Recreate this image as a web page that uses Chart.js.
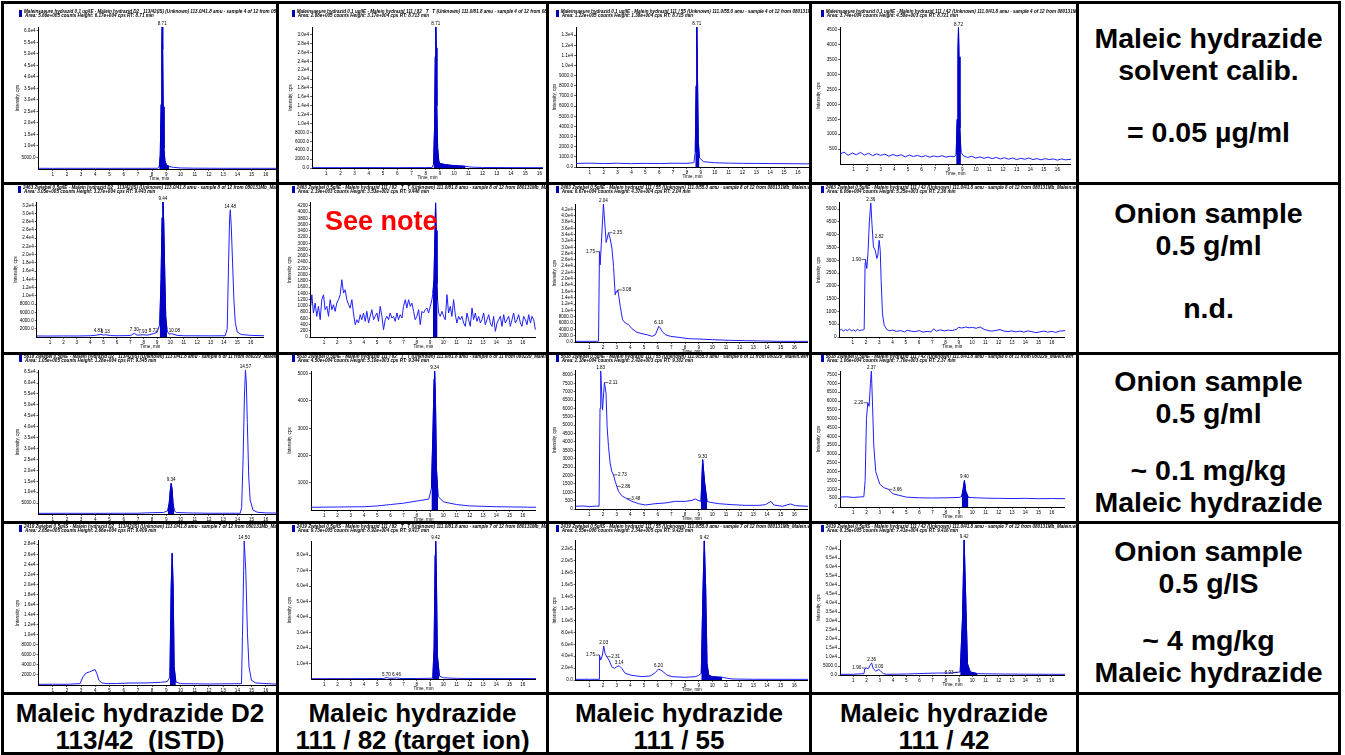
<!DOCTYPE html>
<html>
<head>
<meta charset="utf-8">
<script src="https://cdn.jsdelivr.net/npm/chart.js@4.4.1/dist/chart.umd.min.js"></script>
<style>
body { margin: 0; background: #fff; width: 1345px; height: 755px; overflow: hidden; font-family: "Liberation Sans", Arial, sans-serif; }
#grid { position: absolute; left: 1px; top: 1px; display: grid; background: #000; padding: 3px; gap: 3px;
  grid-template-columns: 272px 267px 260px 264px 259px; grid-template-rows: 178px 167px 166px 168px 57px; }
.cell { background: #fff; position: relative; overflow: hidden; }
.cell canvas { position: absolute; left: 0; top: 0; }
.icon { position: absolute; width: 3px; height: 7px; background: #0000b4; }
.hdr { position: absolute; font: italic bold 4.6px "Liberation Sans"; line-height: 4.4px; white-space: pre; color: #000; }
.txt { position: absolute; left: 0; right: 0; text-align: center; font: bold 28.5px "Liberation Sans"; line-height: 32px; white-space: pre; }
.bot { position: absolute; left: 0; right: 0; text-align: center; font: bold 26px "Liberation Sans"; line-height: 27px; white-space: pre; }
.note { position: absolute; font: bold 27px "Liberation Sans"; color: #ff0000; white-space: nowrap; }
</style>
</head>
<body>
<div id="grid">
  <div class="cell" id="c11"></div><div class="cell" id="c12"></div><div class="cell" id="c13"></div><div class="cell" id="c14"></div>
  <div class="cell" id="t1"></div>
  <div class="cell" id="c21"></div><div class="cell" id="c22"></div><div class="cell" id="c23"></div><div class="cell" id="c24"></div>
  <div class="cell" id="t2"></div>
  <div class="cell" id="c31"></div><div class="cell" id="c32"></div><div class="cell" id="c33"></div><div class="cell" id="c34"></div>
  <div class="cell" id="t3"></div>
  <div class="cell" id="c41"></div><div class="cell" id="c42"></div><div class="cell" id="c43"></div><div class="cell" id="c44"></div>
  <div class="cell" id="t4"></div>
  <div class="cell" id="b1"></div><div class="cell" id="b2"></div><div class="cell" id="b3"></div><div class="cell" id="b4"></div>
  <div class="cell" id="b5"></div>
</div>
<script>
// x-Achse: Zeit in min
const xTickLabels = ['1','2','3','4','5','6','7','8','9','10','11','12','13','14','15','16'];

// Beschriftung rechts (Text, Mitte in px ab Zellenoberkante) und unten
const sampleTexts = [
  [['Maleic hydrazide', 34], ['solvent calib.', 66], ['= 0.05 µg/ml', 128]],
  [['Onion sample', 28], ['0.5 g/ml', 60], ['n.d.', 123]],
  [['Onion sample', 26], ['0.5 g/ml', 58], ['~ 0.1 mg/kg', 115], ['Maleic hydrazide', 147]],
  [['Onion sample', 27], ['0.5 g/IS', 59], ['~ 4 mg/kg', 116], ['Maleic hydrazide', 148]]
];
const ionLabels = [
  ['Maleic hydrazide D2', '113/42  (ISTD)'],
  ['Maleic hydrazide', '111 / 82 (target ion)'],
  ['Maleic hydrazide', '111 / 55'],
  ['Maleic hydrazide', '111 / 42']
];

// ---- Zeile 1: Standard 0,05 µg/ml ----
const p11Header = ['Maleinsaeure hydrazid 0,1 ug/lE - Malein hydrazid D2   113/42(IS) (Unknown) 113.0/41.8 amu - sample 4 of 12 from 080131Mb_Malein.wiff',
  ' Area: 5.66e+005 counts Height: 6.17e+004 cps RT: 8.71 min'];
const p11YLabels = ['5000.0','1.0e4','1.5e4','2.0e4','2.5e4','3.0e4','3.5e4','4.0e4','4.5e4','5.0e4','5.5e4','6.0e4'];
const p11YMax = 61700;
const p11Trace = [[0,300],[1,280],[2,300],[3,290],[4,300],[5,280],[6,300],[7,290],[8,310],[8.4,330],[8.5,900],[8.57,6000],[8.63,28000],
  [8.68,55000],[8.71,61700],[8.74,52000],[8.78,27000],[8.83,9000],[8.9,3500],[9.0,1800],[9.2,1100],[9.5,700],[10,450],[11,350],[13,300],[15,300],[17,290]];
const p11Fill = [8.45, 9.25];
const p11Peaks = [[8.71, 61700, '8.71']];

const p12Header = ['Maleinsaeure hydrazid 0,1 ug/lE - Malein hydrazid 111 / 82   T   T (Unknown) 111.0/81.8 amu - sample 4 of 12 from 080131Mb_Malein.wiff',
  ' Area: 2.88e+005 counts Height: 3.17e+004 cps RT: 8.713 min'];
const p12YLabels = ['0.0','2000.0','4000.0','6000.0','8000.0','1.0e4','1.2e4','1.4e4','1.6e4','1.8e4','2.0e4','2.2e4','2.4e4','2.6e4','2.8e4','3.0e4'];
const p12YMax = 31700;
const p12Trace = [[0,80],[2,80],[4,100],[6,80],[8,100],[8.45,120],[8.55,900],[8.62,9000],[8.67,25000],[8.71,31700],[8.74,27000],[8.78,14000],
  [8.84,4500],[8.92,1600],[9.0,1000],[9.4,750],[9.8,600],[10.3,480],[10.8,380],[11.2,200],[12,120],[14,90],[16.25,80]];
const p12Fill = [8.5, 10.8];
const p12Peaks = [[8.71, 31700, '8.71']];

const p13Header = ['Maleinsaeure hydrazid 0,1 ug/lE - Malein hydrazid 111 / 55 (Unknown) 111.0/55.0 amu - sample 4 of 12 from 080131Mb_Malein.wiff',
  ' Area: 1.22e+005 counts Height: 1.38e+004 cps RT: 8.715 min'];
const p13YLabels = ['0.0','1000.0','2000.0','3000.0','4000.0','5000.0','6000.0','7000.0','8000.0','9000.0','1.0e4','1.1e4','1.2e4','1.3e4'];
const p13YMax = 13800;
const p13Trace = [[0,350],[1,380],[2,340],[3,370],[4,330],[5,360],[6,340],[7,370],[8,360],[8.5,420],[8.6,1500],[8.66,8000],[8.71,13800],
  [8.76,9000],[8.82,2500],[8.9,900],[9.2,520],[10,420],[11,380],[12,360],[13,350],[14,340],[15,330],[16,320],[16.8,310]];
const p13Fill = [8.55, 9.1];
const p13Peaks = [[8.71, 13800, '8.71']];

const p14Header = ['Maleinsaeure hydrazid 0,1 ug/lE - Malein hydrazid 111 / 42 (Unknown) 111.0/41.8 amu - sample 4 of 12 from 080131Mb_Malein.wiff',
  ' Area: 3.74e+004 counts Height: 4.58e+003 cps RT: 8.721 min'];
const p14YLabels = ['500','1000','1500','2000','2500','3000','3500','4000','4500'];
const p14YMax = 4600;
const p14Trace = [[0,330],[0.3,400],[0.6,290],[0.9,370],[1.2,310],[1.5,390],[1.8,300],[2.1,360],[2.4,280],[2.7,340],[3.0,290],[3.3,330],[3.6,260],
  [3.9,320],[4.2,270],[4.5,310],[4.8,240],[5.1,300],[5.4,250],[5.7,290],[6.0,240],[6.3,280],[6.6,230],[6.9,270],[7.2,240],[7.5,280],[7.8,230],
  [8.1,260],[8.4,240],[8.55,320],[8.62,1500],[8.68,3800],[8.72,4580],[8.76,3600],[8.82,1200],[8.9,400],[9.1,270],[9.4,220],[9.7,260],[10.0,200],
  [10.3,240],[10.6,190],[10.9,230],[11.2,180],[11.5,220],[11.8,170],[12.1,210],[12.4,160],[12.7,200],[13.0,150],[13.3,190],[13.6,160],[13.9,200],
  [14.2,150],[14.5,180],[14.8,140],[15.1,180],[15.4,150],[15.7,170],[16.0,130],[16.3,170],[16.6,140],[17.0,160]];
const p14Fill = [8.55, 9.0];
const p14Peaks = [[8.72, 4580, '8.72']];

// ---- Zeile 2: Zwiebel 0,5 g/ml, n.d. ----
const p21Header = ['2463 Zwiebel 0,5g/IE - Malein hydrazid D2   113/42(IS) (Unknown) 113.0/41.8 amu - sample 8 of 12 from 080131Mb_Malein.wiff',
  ' Area: 3.05e+005 counts Height: 3.27e+004 cps RT: 9.443 min'];
const p21YLabels = ['2000.0','4000.0','6000.0','8000.0','1.0e4','1.2e4','1.4e4','1.6e4','1.8e4','2.0e4','2.2e4','2.4e4','2.6e4','2.8e4','3.0e4','3.2e4'];
const p21YMax = 32800;
const p21Trace = [[0,250],[1,230],[2,260],[3,240],[4,300],[4.5,450],[4.81,650],[5.0,450],[5.13,550],[5.5,350],[6,300],[7,350],[7.3,900],[7.5,450],
  [7.93,550],[8.3,450],[8.72,800],[9.0,1100],[9.2,3000],[9.3,14000],[9.38,29000],[9.44,32800],[9.5,28000],[9.58,15000],[9.65,5000],[9.75,1500],
  [9.9,700],[10.08,800],[10.5,400],[11,300],[13,280],[14.1,300],[14.25,2000],[14.35,18000],[14.43,29000],[14.48,30900],[14.55,27000],[14.65,18000],
  [14.75,9000],[14.85,3500],[15.0,1200],[15.3,600],[16,400],[17,300]];
const p21Fill = [9.15, 9.8];
const p21Peaks = [[4.6, 650, '4.81'], [5.13, 550, '5.13'], [7.3, 900, '7.30'], [7.93, 550, '7.93'], [8.72, 800, '8.72'], [9.44, 32800, '9.44'], [10.3, 800, '10.08'], [14.48, 30900, '14.48']];

const p22Header = ['2463 Zwiebel 0,5g/IE - Malein hydrazid 111 / 82   T   T (Unknown) 111.0/81.8 amu - sample 8 of 12 from 080131Mb_Malein.wiff',
  ' Area: 2.19e+003 counts Height: 3.53e+002 cps RT: 9.448 min'];
const p22YLabels = ['0','200','400','600','800','1000','1200','1400','1600','1800','2000','2200','2400','2600','2800','3000','3200','3400','3600','3800','4000','4200'];
const p22YMax = 4300;
const p22Trace = [[0,1000],[0.08,1350],[0.2,768],[0.33,1087],[0.45,661],[0.58,981],[0.71,554],[0.83,1194],[0.96,1354],[1.08,874],[1.21,981],
  [1.34,661],[1.46,1194],[1.59,874],[1.71,1034],[1.84,821],[1.96,1087],[2.09,1194],[2.22,1354],[2.34,1834],[2.47,1407],[2.59,1514],[2.72,1194],
  [2.85,1034],[2.97,927],[3.1,1194],[3.22,768],[3.35,394],[3.48,554],[3.6,448],[3.73,714],[3.85,554],[3.98,768],[4.11,501],[4.23,821],[4.36,448],
  [4.48,661],[4.61,874],[4.74,554],[4.86,661],[4.99,768],[5.11,501],[5.24,981],[5.37,661],[5.49,235],[5.62,554],[5.74,661],[5.87,554],[5.99,768],
  [6.12,608],[6.25,661],[6.37,501],[6.5,768],[6.62,554],[6.75,714],[6.88,608],[7.0,981],[7.13,1194],[7.25,927],[7.38,1194],[7.51,981],[7.63,1087],
  [7.76,821],[7.88,554],[8.01,661],[8.14,874],[8.26,394],[8.39,821],[8.51,768],[8.64,874],[8.77,927],[8.89,768],[9.02,981],[9.14,1194],[9.22,1407],
  [9.3,1850],[9.35,2900],[9.42,4300],[9.47,3400],[9.52,1700],[9.57,1194],[9.65,768],[9.77,661],[9.9,821],[10.03,661],[10.15,554],[10.28,1354],
  [10.4,768],[10.53,981],[10.65,661],[10.78,1194],[10.91,714],[11.03,448],[11.16,661],[11.28,554],[11.41,661],[11.54,448],[11.66,341],[11.79,768],
  [11.91,554],[12.04,341],[12.17,927],[12.29,554],[12.42,768],[12.54,501],[12.67,661],[12.8,448],[12.92,554],[13.05,768],[13.17,394],[13.3,554],
  [13.43,714],[13.55,448],[13.68,341],[13.8,661],[13.93,181],[14.06,448],[14.18,554],[14.31,661],[14.43,341],[14.56,714],[14.68,448],[14.81,554],
  [14.94,661],[15.06,341],[15.19,554],[15.31,768],[15.44,448],[15.57,554],[15.69,714],[15.82,448],[15.94,341],[16.07,661],[16.2,554],[16.32,394],
  [16.45,714],[16.58,448],[16.7,661],[16.83,554],[16.95,235]];
const p22Fill = [9.2, 9.6];
const p22Peaks = [];

const p23Header = ['2463 Zwiebel 0,5g/IE - Malein hydrazid 111 / 55 (Unknown) 111.0/55.0 amu - sample 8 of 12 from 080131Mb_Malein.wiff',
  ' Area: 6.67e+004 counts Height: 4.37e+004 cps RT: 2.04 min'];
const p23YLabels = ['0.0','2000.0','4000.0','6000.0','8000.0','1.0e4','1.2e4','1.4e4','1.6e4','1.8e4','2.0e4','2.2e4','2.4e4','2.6e4','2.8e4','3.0e4',
  '3.2e4','3.4e4','3.6e4','3.8e4','4.0e4','4.2e4'];
const p23YMax = 43700;
const p23Trace = [[0,200],[0.5,210],[1.0,200],[1.5,220],[1.67,250],[1.74,28600],[1.79,24400],[2.03,43700],[2.23,31500],[2.4,34600],[2.52,32800],
  [2.65,29700],[2.77,23900],[2.89,14950],[2.95,16000],[3.01,15800],[3.08,16500],[3.14,14950],[3.26,11270],[3.43,7050],[3.63,6000],[3.87,5480],
  [4.12,4200],[4.49,3050],[4.85,2630],[5.22,2320],[5.59,1790],[5.83,2300],[6.08,4950],[6.2,4400],[6.32,3370],[6.57,2300],[6.94,1790],[7.55,1470],
  [8.28,1050],[9.02,950],[10.0,740],[11.23,530],[12.45,420],[13.68,320],[14.9,210],[17.0,200]];
const p23Fill = null;
const p23Peaks = [[1.74, 28600, '1.75', 'l'], [2.03, 43700, '2.04'], [2.4, 34600, '2.35', 'r'], [3.08, 16500, '3.08', 'r'], [6.08, 4950, '6.10']];

const p24Header = ['2463 Zwiebel 0,5g/IE - Malein hydrazid 111 / 42 (Unknown) 111.0/41.8 amu - sample 8 of 12 from 080131Mb_Malein.wiff',
  ' Area: 6.06e+004 counts Height: 5.25e+003 cps RT: 2.36 min'];
const p24YLabels = ['0','500','1000','1500','2000','2500','3000','3500','4000','4500','5000'];
const p24YMax = 5250;
const p24Trace = [[0,260],[0.15,300],[0.3,230],[0.45,290],[0.6,250],[0.75,310],[0.9,240],[1.05,280],[1.2,230],[1.35,300],[1.5,250],[1.65,270],
  [1.8,280],[1.86,300],[1.93,2900],[1.96,3030],[2.06,2680],[2.15,3300],[2.25,4500],[2.36,5250],[2.45,4400],[2.56,3520],[2.69,3390],[2.82,3070],
  [2.89,3200],[2.99,3780],[3.07,3390],[3.14,2220],[3.24,910],[3.37,460],[3.57,290],[3.8,240],[4.0,270],[4.3,220],[4.6,250],[4.9,200],[5.1,260],
  [5.4,230],[5.7,210],[6.0,250],[6.3,190],[6.6,220],[6.9,200],[7.1,320],[7.3,230],[7.6,280],[7.9,240],[8.2,270],[8.5,250],[8.8,300],[9.0,380],
  [9.2,350],[9.5,390],[9.8,360],[10.0,380],[10.3,340],[10.6,390],[10.9,300],[11.2,250],[11.5,230],[11.8,260],[12.1,290],[12.4,230],[12.7,210],
  [13.0,240],[13.3,200],[13.6,230],[13.9,190],[14.2,240],[14.5,210],[14.8,170],[15.1,200],[15.4,230],[15.7,190],[16.0,220],[16.3,180],[16.6,230],[17.0,250]];
const p24Fill = null;
const p24Peaks = [[1.96, 3030, '1.90', 'l'], [2.36, 5250, '2.36'], [2.99, 3780, '2.82']];

// ---- Zeile 3: Zwiebel 0,5 g/ml, ~0,1 mg/kg ----
const p31Header = ['5618 Zwiebel 0,5g/IE - Malein hydrazid D2   113/42(IS) (Unknown) 113.0/41.8 amu - sample 6 of 11 from 080229_Malein.wiff',
  ' Area: 1.05e+005 counts Height: 1.28e+004 cps RT: 9.345 min'];
const p31YLabels = ['5000.0','1.0e4','1.5e4','2.0e4','2.5e4','3.0e4','3.5e4','4.0e4','4.5e4','5.0e4','5.5e4','6.0e4','6.5e4'];
const p31YMax = 66000;
const p31Trace = [[0,300],[2,320],[4,300],[6,330],[7,350],[8,600],[8.8,700],[9.1,1500],[9.2,5000],[9.28,11000],[9.34,14000],[9.4,11500],
  [9.47,5000],[9.55,1500],[9.7,700],[10.5,500],[12,350],[14.2,350],[14.3,3000],[14.4,25000],[14.5,55000],[14.57,66000],[14.63,60000],[14.7,42000],
  [14.8,17000],[14.9,6400],[15.1,1800],[15.4,800],[16,500],[17,400]];
const p31Fill = [9.1, 9.6];
const p31Peaks = [[9.34, 14000, '9.34'], [14.57, 66000, '14.57']];

const p32Header = ['5618 Zwiebel 0,5g/IE - Malein hydrazid 111 / 82   T   T (Unknown) 111.0/81.8 amu - sample 6 of 11 from 080229_Malein.wiff',
  ' Area: 4.50e+004 counts Height: 5.10e+003 cps RT: 9.344 min'];
const p32YLabels = ['1000','2000','3000','4000','5000'];
const p32YMax = 5100;
const p32Trace = [[0,100],[2,110],[4,120],[5,150],[6,200],[7,250],[8,330],[8.9,400],[9.1,800],[9.22,3000],[9.3,4800],[9.34,5100],[9.4,4200],
  [9.48,1500],[9.6,500],[10,300],[11,200],[12,150],[14,120],[17,100]];
const p32Fill = [9.05, 9.65];
const p32Peaks = [[9.34, 5100, '9.34']];

const p33Header = ['5618 Zwiebel 0,5g/IE - Malein hydrazid 111 / 55 (Unknown) 111.0/55.0 amu - sample 6 of 11 from 080229_Malein.wiff',
  ' Area: 2.18e+004 counts Height: 2.42e+003 cps RT: 9.302 min'];
const p33YLabels = ['0','500','1000','1500','2000','2500','3000','3500','4000','4500','5000','5500','6000','6500','7000','7500','8000'];
const p33YMax = 8250;
const p33Trace = [[0,160],[0.5,180],[1.0,150],[1.5,170],[1.71,170],[1.78,6000],[1.83,8250],[1.96,5900],[2.1,7540],[2.22,6900],[2.3,4900],
  [2.4,3730],[2.52,2740],[2.64,2240],[2.76,2040],[2.89,1650],[3.01,1350],[3.13,1050],[3.37,790],[3.74,615],[4.11,456],[4.6,317],[5.09,238],
  [5.82,317],[6.55,357],[7.29,456],[8.02,456],[8.51,516],[8.75,595],[8.95,516],[9.17,456],[9.29,2940],[9.44,1550],[9.61,456],[9.85,397],
  [10.46,317],[11.44,258],[12.42,218],[13.4,218],[13.89,258],[14.28,456],[14.5,238],[15.11,160],[15.72,300],[16.09,200],[17.0,160]];
const p33Fill = [9.0, 9.65];
const p33Peaks = [[1.83, 8250, '1.83'], [2.1, 7540, '2.11', 'r'], [2.76, 2040, '2.73', 'r'], [3.01, 1350, '2.86', 'r'], [3.74, 615, '3.48', 'r'], [9.29, 2940, '9.30']];

const p34Header = ['5618 Zwiebel 0,5g/IE - Malein hydrazid 111 / 42 (Unknown) 111.0/41.8 amu - sample 6 of 11 from 080229_Malein.wiff',
  ' Area: 1.06e+004 counts Height: 7.70e+003 cps RT: 2.37 min'];
const p34YLabels = ['0','500','1000','1500','2000','2500','3000','3500','4000','4500','5000','5500','6000','6500','7000','7500'];
const p34YMax = 7700;
const p34Trace = [[0,560],[0.5,580],[1.0,540],[1.5,570],[1.8,580],[1.9,1500],[2.0,5000],[2.1,5900],[2.2,5700],[2.3,7000],[2.37,7700],[2.45,6000],
  [2.55,3500],[2.7,2000],[3.0,1300],[3.3,1100],[3.66,1000],[4,750],[5,560],[6,520],[7,510],[8,520],[9.0,540],[9.2,600],[9.3,1000],[9.4,1500],
  [9.5,900],[9.7,540],[11,500],[12,490],[13,480],[14,490],[15,470],[16,480],[17,470]];
const p34Fill = [9.15, 9.75];
const p34Peaks = [[2.1, 5900, '2.20', 'l'], [2.37, 7700, '2.37'], [3.66, 1000, '3.66', 'r'], [9.4, 1500, '9.40']];

// ---- Zeile 4: Zwiebel 0,5 g/IS, ~4 mg/kg ----
const p41Header = ['2419 Zwiebel 0,5g/IS - Malein hydrazid D2   113/42(IS) (Unknown) 113.0/41.8 amu - sample 7 of 12 from 080131Mb_Malein.wiff',
  ' Area: 2.65e+005 counts Height: 2.66e+004 cps RT: 9.409 min'];
const p41YLabels = ['2000.0','4000.0','6000.0','8000.0','1.0e4','1.2e4','1.4e4','1.6e4','1.8e4','2.0e4','2.2e4','2.4e4','2.6e4','2.8e4'];
const p41YMax = 28700;
const p41Trace = [[0,130],[1,150],[2,140],[2.93,270],[3.12,1600],[3.36,2400],[3.59,2600],[3.83,2900],[3.99,3050],[4.11,2250],[4.25,930],
  [4.46,400],[4.82,270],[5.5,300],[6.5,400],[7.5,400],[8.59,530],[9.06,660],[9.25,1600],[9.34,19500],[9.41,26200],[9.48,19500],[9.55,3600],
  [9.67,600],[10.0,270],[12,200],[14.29,270],[14.38,12900],[14.48,28700],[14.59,22800],[14.71,10200],[14.82,3600],[14.99,930],[15.3,400],[17,130]];
const p41Fill = [9.2, 9.7];
const p41Peaks = [[14.48, 28700, '14.50']];

const p42Header = ['2419 Zwiebel 0,5g/IS - Malein hydrazid 111 / 82   T   T (Unknown) 111.0/81.8 amu - sample 7 of 12 from 080131Mb_Malein.wiff',
  ' Area: 9.73e+005 counts Height: 8.92e+004 cps RT: 9.417 min'];
const p42YLabels = ['1.0e4','2.0e4','3.0e4','4.0e4','5.0e4','6.0e4','7.0e4','8.0e4'];
const p42YMax = 89200;
const p42Trace = [[0,200],[1,220],[2,250],[3,260],[4,280],[5,300],[5.5,350],[5.7,900],[5.9,500],[6.2,450],[6.46,700],[6.8,320],[8,320],[9.2,500],[9.3,20000],
  [9.38,80000],[9.42,89200],[9.47,70000],[9.55,15000],[9.7,2000],[10,800],[11,400],[13,300],[17,280]];
const p42Fill = [9.2, 9.9];
const p42Peaks = [[5.7, 900, '5.70'], [6.46, 700, '6.46'], [9.42, 89200, '9.42']];

const p43Header = ['2419 Zwiebel 0,5g/IS - Malein hydrazid 111 / 55 (Unknown) 111.0/55.0 amu - sample 7 of 12 from 080131Mb_Malein.wiff',
  ' Area: 2.55e+006 counts Height: 2.34e+005 cps RT: 9.425 min'];
const p43YLabels = ['0.0','2.0e4','4.0e4','6.0e4','8.0e4','1.0e5','1.2e5','1.4e5','1.6e5','1.8e5','2.0e5','2.2e5'];
const p43YMax = 234000;
const p43Trace = [[0,1100],[1,1200],[1.71,1100],[1.74,41900],[1.83,33500],[1.96,41900],[2.05,57000],[2.15,44700],[2.27,39100],[2.44,33500],
  [2.64,22300],[2.84,19600],[3.0,22300],[3.18,24000],[3.37,19600],[3.62,11200],[4.11,7800],[4.84,5600],[5.45,6700],[5.82,12300],[6.06,18400],
  [6.31,15600],[6.67,8400],[7.04,5600],[8.02,4500],[8.75,5600],[9.0,7800],[9.19,11200],[9.32,156000],[9.41,234000],[9.51,156000],[9.61,28000],
  [9.73,8400],[9.98,5600],[10.71,4500],[11.44,1700],[13,1200],[17,1100]];
const p43Fill = [9.1, 10.9];
const p43Peaks = [[1.74, 41900, '1.75', 'l'], [2.05, 57000, '2.03'], [2.27, 39100, '2.31', 'r'], [3.18, 24000, '3.14'], [6.06, 18400, '6.20'], [9.41, 234000, '9.42']];

const p44Header = ['2419 Zwiebel 0,5g/IS - Malein hydrazid 111 / 42 (Unknown) 111.0/41.8 amu - sample 7 of 12 from 080131Mb_Malein.wiff',
  ' Area: 8.15e+005 counts Height: 7.41e+004 cps RT: 9.416 min'];
const p44YLabels = ['0.0','5000.0','1.0e4','1.5e4','2.0e4','2.5e4','3.0e4','3.5e4','4.0e4','4.5e4','5.0e4','5.5e4','6.0e4','6.5e4','7.0e4'];
const p44YMax = 75000;
const p44Trace = [[0,370],[1,400],[1.81,740],[1.88,3500],[2.0,3900],[2.13,3500],[2.31,5900],[2.39,6700],[2.51,3500],[2.69,2200],[2.94,3000],
  [3.07,2200],[3.27,740],[3.57,370],[5,560],[7.36,1100],[8.37,1100],[8.88,1500],[9.08,1700],[9.25,30500],[9.38,75000],[9.51,39800],[9.63,6300],
  [9.84,1700],[10.39,740],[12,560],[14,450],[17,370]];
const p44Fill = [9.0, 10.6];
const p44Peaks = [[1.95, 3900, '1.90', 'l'], [2.39, 6700, '2.36'], [2.94, 3000, '3.00'], [8.92, 1500, '8.93', 'l'], [9.38, 75000, '9.42']];

// Lage der Diagramme in den Zellen (px): Achse links, px pro min, x-Ende, Oberkante, x-Achse, Symbol
const panels = [
  { cell: 'c11', header: p11Header, yLabels: p11YLabels, yMax: p11YMax, trace: p11Trace, fill: p11Fill, peaks: p11Peaks, axisLeft: 34.5, perMin: 14.15, xMax: 17, top: 23, axisY: 165, icon: [15, 6] },
  { cell: 'c12', header: p12Header, yLabels: p12YLabels, yMax: p12YMax, trace: p12Trace, fill: p12Fill, peaks: p12Peaks, axisLeft: 33, perMin: 14.15, xMax: 16.25, top: 23, axisY: 164, icon: [12.7, 6] },
  { cell: 'c13', header: p13Header, yLabels: p13YLabels, yMax: p13YMax, trace: p13Trace, fill: p13Fill, peaks: p13Peaks, axisLeft: 27, perMin: 13.8, xMax: 16.8, top: 23, axisY: 163, icon: [6.7, 6] },
  { cell: 'c14', header: p14Header, yLabels: p14YLabels, yMax: p14YMax, trace: p14Trace, fill: p14Fill, peaks: p14Peaks, axisLeft: 28, perMin: 13.5, xMax: 17, top: 23, axisY: 160, icon: [8.7, 6] },
  { cell: 'c21', header: p21Header, yLabels: p21YLabels, yMax: p21YMax, trace: p21Trace, fill: p21Fill, peaks: p21Peaks, axisLeft: 32.7, perMin: 13.3, xMax: 17, top: 17, axisY: 152, icon: [14, 1] },
  { cell: 'c22', header: p22Header, yLabels: p22YLabels, yMax: p22YMax, trace: p22Trace, fill: p22Fill, peaks: p22Peaks, axisLeft: 31.8, perMin: 13.2, xMax: 17, top: 17.7, axisY: 152.3, icon: [12.7, 1] },
  { cell: 'c23', header: p23Header, yLabels: p23YLabels, yMax: p23YMax, trace: p23Trace, fill: p23Fill, peaks: p23Peaks, axisLeft: 26.7, perMin: 13.6, xMax: 17, top: 19, axisY: 157.3, icon: [6.7, 1] },
  { cell: 'c24', header: p24Header, yLabels: p24YLabels, yMax: p24YMax, trace: p24Trace, fill: p24Fill, peaks: p24Peaks, axisLeft: 27.5, perMin: 13.2, xMax: 17, top: 17.7, axisY: 151.7, icon: [8.7, 1] },
  { cell: 'c31', header: p31Header, yLabels: p31YLabels, yMax: p31YMax, trace: p31Trace, fill: p31Fill, peaks: p31Peaks, axisLeft: 34.5, perMin: 14.15, xMax: 17, top: 15, axisY: 159, icon: [15, 0] },
  { cell: 'c32', header: p32Header, yLabels: p32YLabels, yMax: p32YMax, trace: p32Trace, fill: p32Fill, peaks: p32Peaks, axisLeft: 32, perMin: 13.2, xMax: 17, top: 16, axisY: 155, icon: [12.7, 0] },
  { cell: 'c33', header: p33Header, yLabels: p33YLabels, yMax: p33YMax, trace: p33Trace, fill: p33Fill, peaks: p33Peaks, axisLeft: 26.7, perMin: 13.63, xMax: 17, top: 15.7, axisY: 154.3, icon: [6.7, 0] },
  { cell: 'c34', header: p34Header, yLabels: p34YLabels, yMax: p34YMax, trace: p34Trace, fill: p34Fill, peaks: p34Peaks, axisLeft: 28, perMin: 13.2, xMax: 17, top: 16, axisY: 152, icon: [8.7, 0] },
  { cell: 'c41', header: p41Header, yLabels: p41YLabels, yMax: p41YMax, trace: p41Trace, fill: p41Fill, peaks: p41Peaks, axisLeft: 34.5, perMin: 14.15, xMax: 17, top: 16.7, axisY: 160.7, icon: [15, 1] },
  { cell: 'c42', header: p42Header, yLabels: p42YLabels, yMax: p42YMax, trace: p42Trace, fill: p42Fill, peaks: p42Peaks, axisLeft: 32, perMin: 13.2, xMax: 17, top: 17, axisY: 155, icon: [12.7, 1] },
  { cell: 'c43', header: p43Header, yLabels: p43YLabels, yMax: p43YMax, trace: p43Trace, fill: p43Fill, peaks: p43Peaks, axisLeft: 26.7, perMin: 13.63, xMax: 17, top: 16.7, axisY: 156, icon: [6.7, 1] },
  { cell: 'c44', header: p44Header, yLabels: p44YLabels, yMax: p44YMax, trace: p44Trace, fill: p44Fill, peaks: p44Peaks, axisLeft: 28, perMin: 13.2, xMax: 17, top: 16, axisY: 150.7, icon: [8.7, 1] }
];

const LINE_BLUE = '#1f1fff';
const FILL_BLUE = '#0000c4';
const tinyFont = { family: 'Liberation Sans', size: 4.6 };

// Peak-Beschriftung (Retentionszeiten)
const peakLabels = {
  id: 'peakLabels',
  afterDatasetsDraw(chart, args, opts) {
    const { ctx, scales: { x, y } } = chart;
    ctx.save();
    ctx.font = '4.6px "Liberation Sans"';
    ctx.fillStyle = '#000';
    ctx.strokeStyle = '#000';
    ctx.lineWidth = 0.6;
    ctx.textBaseline = 'bottom';
    (opts.items || []).forEach(([t, v, txt, side]) => {
      const px = x.getPixelForValue(t), py = y.getPixelForValue(v);
      if (side === 'l' || side === 'r') {
        const d = side === 'l' ? -4 : 4;
        ctx.beginPath(); ctx.moveTo(px, py); ctx.lineTo(px + d, py); ctx.stroke();
        ctx.textAlign = side === 'l' ? 'right' : 'left';
        ctx.textBaseline = 'middle';
        ctx.fillText(txt, px + d + (side === 'l' ? -0.5 : 0.5), py);
        ctx.textBaseline = 'bottom';
      } else {
        ctx.textAlign = 'center';
        ctx.fillText(txt, px, py - 1);
      }
    });
    ctx.restore();
  }
};

function buildPanel(p) {
  const cell = document.getElementById(p.cell);
  const w = Math.round(p.axisLeft + p.xMax * p.perMin) + 1;
  const h = Math.round(p.axisY + 12);
  const cv = document.createElement('canvas');
  cv.width = w; cv.height = h;
  cv.style.width = w + 'px'; cv.style.height = h + 'px';
  cell.appendChild(cv);

  const icon = document.createElement('div');
  icon.className = 'icon';
  icon.style.left = p.icon[0] + 'px'; icon.style.top = p.icon[1] + 'px';
  cell.appendChild(icon);
  const hdr = document.createElement('div');
  hdr.className = 'hdr';
  hdr.style.left = (p.icon[0] + 5) + 'px'; hdr.style.top = (p.icon[1] - 0.5) + 'px';
  hdr.textContent = p.header[0];
  const l2 = document.createElement('div'); l2.textContent = p.header[1];
  hdr.appendChild(l2);
  cell.appendChild(hdr);

  const pts = p.trace.map(([x, y]) => ({ x, y }));
  const datasets = [];
  if (p.fill) {
    datasets.push({ data: p.trace.filter(([x]) => x >= p.fill[0] && x <= p.fill[1]).map(([x, y]) => ({ x, y })),
      borderColor: FILL_BLUE, backgroundColor: FILL_BLUE, borderWidth: 1, fill: 'origin', pointRadius: 0, tension: 0 });
  }
  datasets.push({ data: pts, borderColor: LINE_BLUE, borderWidth: 1, fill: false, pointRadius: 0, tension: 0 });

  new Chart(cv, {
    type: 'line',
    data: { datasets },
    plugins: [peakLabels],
    options: {
      responsive: false, animation: false, devicePixelRatio: 1, events: [],
      layout: { padding: { top: p.top, left: 0, right: 0, bottom: 0 } },
      plugins: { legend: { display: false }, tooltip: { enabled: false }, peakLabels: { items: p.peaks } },
      scales: {
        x: {
          type: 'linear', min: 0, max: p.xMax,
          afterFit: s => { s.height = 12; },
          afterBuildTicks: s => { s.ticks = xTickLabels.map(v => ({ value: Number(v) })); },
          ticks: { font: tinyFont, color: '#000', padding: 0.5, maxRotation: 0, autoSkip: false, callback: (v, i) => xTickLabels[i] },
          grid: { drawOnChartArea: false, color: '#000', tickLength: 2, lineWidth: 0.6 },
          border: { color: '#000', width: 1 },
          title: { display: true, text: 'Time, min', font: tinyFont, color: '#000', padding: 0 }
        },
        y: {
          type: 'linear', min: 0, max: p.yMax,
          afterFit: s => { s.width = p.axisLeft; },
          afterBuildTicks: s => { s.ticks = p.yLabels.map(v => ({ value: Number(v) })); },
          ticks: { font: tinyFont, color: '#000', padding: 1, autoSkip: false, callback: (v, i) => p.yLabels[i] },
          grid: { drawOnChartArea: false, color: '#000', tickLength: 2, lineWidth: 0.6 },
          border: { color: '#000', width: 1 },
          title: { display: true, text: 'Intensity, cps', font: tinyFont, color: '#000', padding: { top: p.axisLeft - 24, bottom: 0 } }
        }
      }
    }
  });
}

panels.forEach(buildPanel);

// Hinweis im Zielion-Chromatogramm
const note = document.createElement('div');
note.className = 'note';
note.textContent = 'See note';
note.style.left = '46px'; note.style.top = '21px';
document.getElementById('c22').appendChild(note);

// Textspalte rechts
sampleTexts.forEach((lines, r) => {
  const cell = document.getElementById('t' + (r + 1));
  lines.forEach(([txt, cy]) => {
    const d = document.createElement('div');
    d.className = 'txt'; d.textContent = txt; d.style.top = (cy - 16) + 'px';
    cell.appendChild(d);
  });
});

// Ionen-Beschriftung unten
ionLabels.forEach((lines, c) => {
  const cell = document.getElementById('b' + (c + 1));
  lines.forEach((txt, k) => {
    const d = document.createElement('div');
    d.className = 'bot'; d.textContent = txt; d.style.top = (5 + k * 27) + 'px';
    cell.appendChild(d);
  });
});
</script>
</body>
</html>
